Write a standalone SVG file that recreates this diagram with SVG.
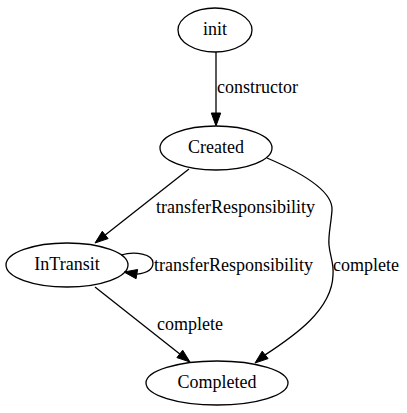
<svg xmlns="http://www.w3.org/2000/svg" width="407" height="413" viewBox="0 0 407 413">
<style>
.n ellipse{fill:none;stroke:#000;stroke-width:1.3}
.n text{text-anchor:middle}
text{font-family:'Liberation Serif',serif;font-size:18px;fill:#000}
.e path{fill:none;stroke:#000;stroke-width:1.3}
.e polygon{fill:#000;stroke:#000;stroke-width:1}
</style>
<rect width="407" height="413" fill="#fff"/>
<g id="init" class="n"><ellipse cx="215" cy="30" rx="37" ry="22"/><text x="215" y="35">init</text></g>
<g id="Created" class="n"><ellipse cx="216" cy="148" rx="56" ry="22"/><text x="216" y="153">Created</text></g>
<g id="InTransit" class="n"><ellipse cx="67" cy="265" rx="61" ry="22"/><text x="67" y="270">InTransit</text></g>
<g id="Completed" class="n"><ellipse cx="217" cy="383" rx="71" ry="22"/><text x="217" y="388">Completed</text></g>
<g id="edges" class="e">
<path d="M216,52 L216,113"/>
<polygon points="216,126 211.3,113 220.7,113"/>
<text x="217" y="93">constructor</text>
<path d="M189,169 L105.2,235"/>
<polygon points="95,243 108.1,238.6 102.3,231.3"/>
<text x="156" y="213">transferResponsibility</text>
<path d="M121,255 C135,251 153,254 153,263 C153,270 147,273 136.8,274.1"/>
<polygon points="124,272 137.6,269.5 136.1,278.7"/>
<text x="154" y="271">transferResponsibility</text>
<path d="M267,158 C300,172 333,190 332,210 C331,225 328,235 329,245 C330,257 334,262 333,275 C332,310 294,336 265.1,354.9"/>
<polygon points="255,363 268.1,358.6 262.2,351.2"/>
<text x="333" y="271">complete</text>
<path d="M95,287 L179.8,353.9"/>
<polygon points="190,362 176.9,357.6 182.7,350.2"/>
<text x="157" y="330">complete</text>
</g>
</svg>
